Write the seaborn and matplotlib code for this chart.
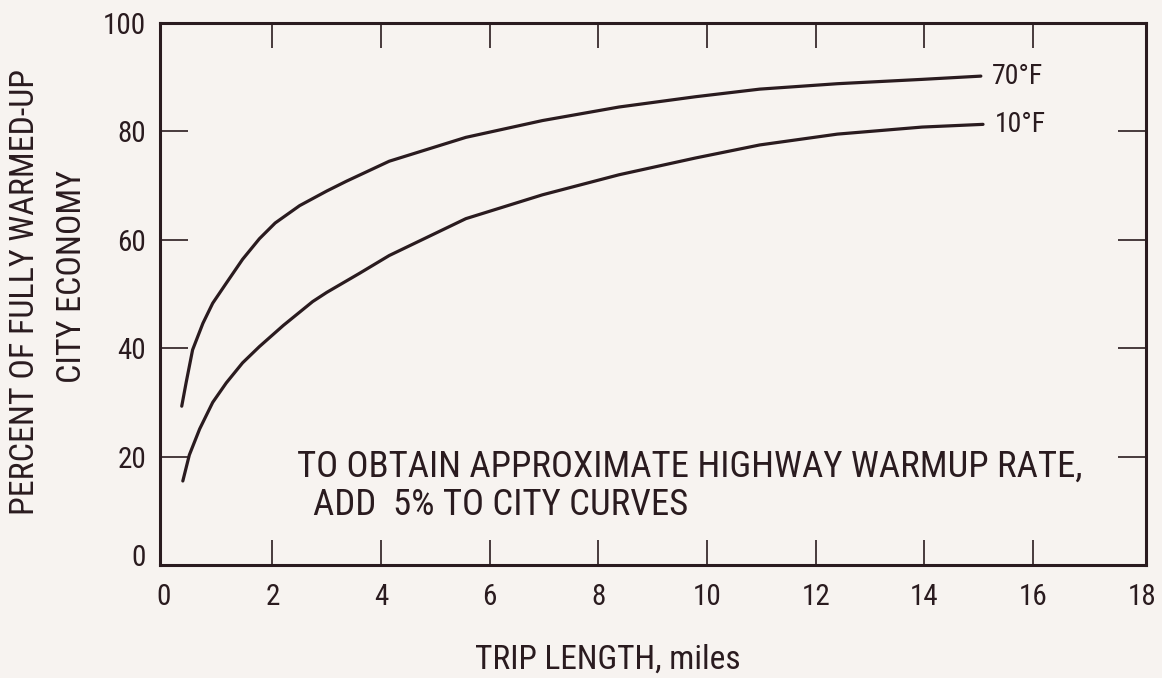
import matplotlib
matplotlib.use("Agg")
import matplotlib.pyplot as plt
from matplotlib import font_manager
from matplotlib.transforms import ScaledTranslation
import seaborn as sns

# ---- data ----
x_70 = [0.33, 0.41, 0.53, 0.72, 0.90, 1.15, 1.45, 1.76, 2.05, 2.50, 3.0, 3.36, 4.15,
        5.56, 6.97, 8.38, 9.79, 10.97, 12.40, 13.96, 15.04]
y_70 = [29.3, 33.6, 39.7, 44.6, 48.3, 52.0, 56.4, 60.2, 63.1, 66.3, 69.0, 70.8, 74.5,
        78.9, 82.0, 84.5, 86.4, 87.8, 88.8, 89.6, 90.2]
x_10 = [0.35, 0.47, 0.66, 0.90, 1.15, 1.45, 1.76, 2.20, 2.74, 3.0, 3.6, 4.15, 5.56,
        6.97, 8.38, 9.79, 10.97, 12.40, 13.96, 15.08]
y_10 = [15.5, 20.3, 25.1, 30.0, 33.6, 37.3, 40.3, 44.2, 48.6, 50.3, 53.8, 57.1, 63.9,
        68.3, 72.0, 75.1, 77.5, 79.5, 80.8, 81.3]
series_labels = ["70°F", "10°F"]
x_ticks = [0, 2, 4, 6, 8, 10, 12, 14, 16, 18]
y_ticks = [0, 20, 40, 60, 80, 100]
x_title = "TRIP LENGTH, miles"
y_title_line1 = "PERCENT OF FULLY WARMED-UP"
y_title_line2 = "CITY ECONOMY"
note_line1 = "TO OBTAIN APPROXIMATE HIGHWAY WARMUP RATE,"
note_line2 = "ADD  5% TO CITY CURVES"

BG = "#f7f3f0"
INK = "#2a1b1f"

names = {f.name for f in font_manager.fontManager.ttflist}
prefs = ["Roboto Condensed", "Barlow Condensed", "Liberation Sans"]
chosen = [p for p in prefs if p in names][:1] + ["DejaVu Sans"]

sns.set_theme(style="white")
plt.rcParams["font.family"] = chosen
plt.rcParams["text.color"] = INK
plt.rcParams["xtick.color"] = INK
plt.rcParams["ytick.color"] = INK

fig = plt.figure(figsize=(11.62, 6.78), dpi=100, facecolor=BG)
ax = fig.add_axes([160 / 1162, 1 - 565 / 678, (1146 - 160) / 1162, (565 - 23) / 678])
ax.set_facecolor(BG)

sns.lineplot(x=x_70, y=y_70, ax=ax, color=INK, linewidth=2.3, sort=False)
sns.lineplot(x=x_10, y=y_10, ax=ax, color=INK, linewidth=2.3, sort=False)

ax.set_xlim(-0.07, 18.08)
ax.set_ylim(0, 100)

for s in ax.spines.values():
    s.set_visible(True)
    s.set_color(INK)
    s.set_linewidth(2.2)

ax.set_xticks(x_ticks)
ax.set_xticklabels([str(t) for t in x_ticks])
ax.set_yticks(y_ticks)
ax.set_yticklabels([str(t) for t in y_ticks])
ax.tick_params(axis="x", direction="in", length=18, width=1.2, top=True, bottom=True,
               labelsize=21, pad=13)
ax.tick_params(axis="y", direction="in", length=20, width=1.2, left=True, right=True,
               labelsize=21, pad=10)
for tk in [ax.xaxis.get_major_ticks()[0], ax.xaxis.get_major_ticks()[-1],
           ax.yaxis.get_major_ticks()[0], ax.yaxis.get_major_ticks()[-1]]:
    tk.tick1line.set_visible(False)
    tk.tick2line.set_visible(False)

# the y "0" label sits a little above the axis line in the reference
lbl0 = ax.get_yticklabels()[0]
lbl0.set_transform(lbl0.get_transform() + ScaledTranslation(0, 7 / 72, fig.dpi_scale_trans))

ax.set_xlabel("")
ax.set_ylabel("")

ax.text(15.25, y_70[-1], series_labels[0], fontsize=20, va="center", ha="left", color=INK)
ax.text(15.3, y_10[-1], series_labels[1], fontsize=20, va="center", ha="left", color=INK)

ax.text(2.46, 18.1, note_line1, fontsize=26.5, va="center", ha="left", color=INK)
ax.text(2.74, 11.1, note_line2, fontsize=26.5, va="center", ha="left", color=INK)

fig.text(608 / 1162, 1 - 660 / 678, x_title, fontsize=24, ha="center", va="center", color=INK)
fig.text(25 / 1162, 1 - 292 / 678, y_title_line1, fontsize=24.5, ha="center", va="center",
         rotation=90, color=INK)
fig.text(72 / 1162, 1 - 277 / 678, y_title_line2, fontsize=24.5, ha="center", va="center",
         rotation=90, color=INK)

fig.savefig("out.png", dpi=100, facecolor=BG)
